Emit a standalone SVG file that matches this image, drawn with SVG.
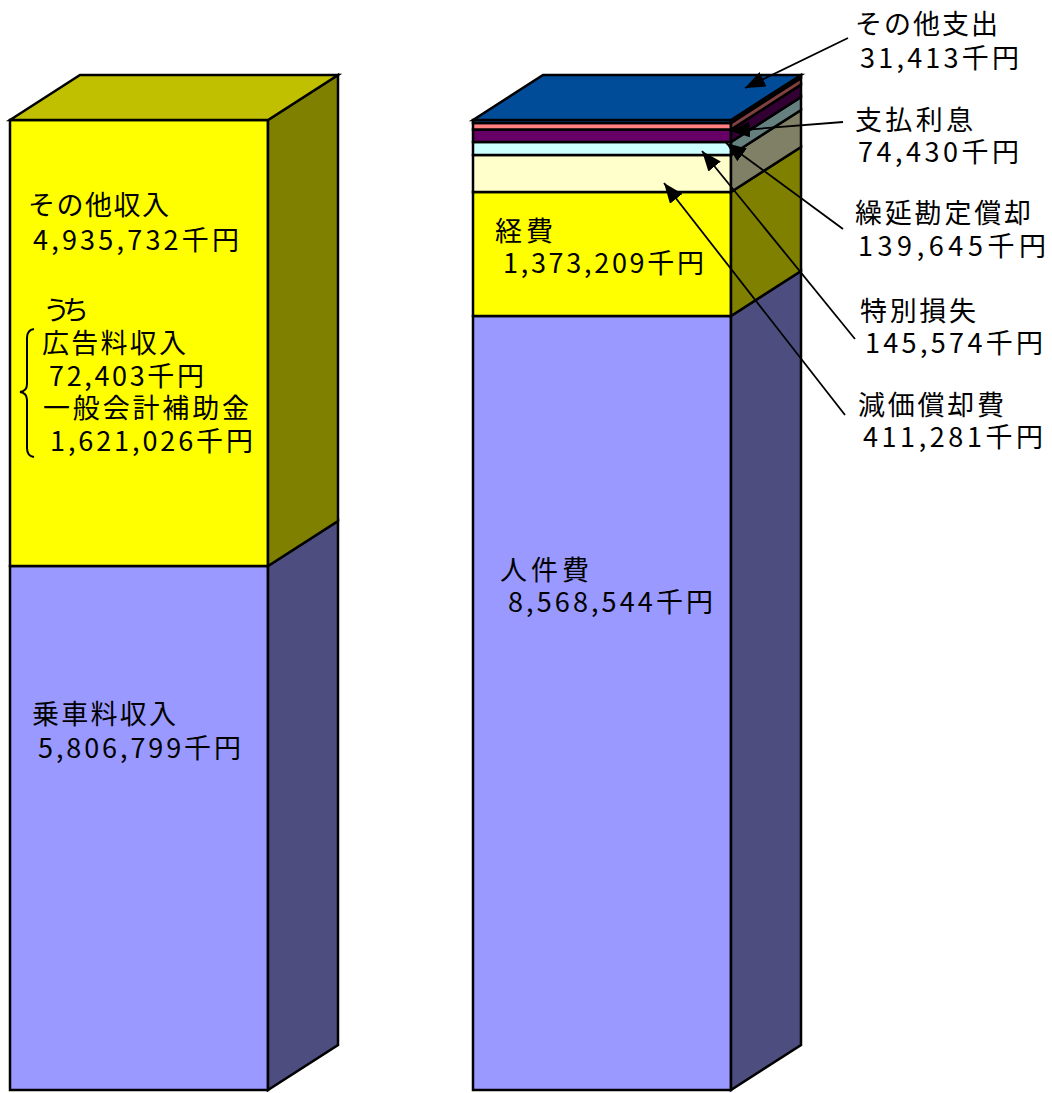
<svg xmlns="http://www.w3.org/2000/svg" width="1052" height="1093" viewBox="0 0 1052 1093">
<style>
  .face { stroke: #000; stroke-width: 2.5; stroke-linejoin: miter; }
  .lbl { font-family: "Noto Sans CJK JP", "Noto Sans", sans-serif; font-size: 27px; fill: #000; }
  .lead { stroke: #000; stroke-width: 1.8; fill: none; }
  .brace { stroke: #000; stroke-width: 2; fill: none; }
</style>
<defs>
  <marker id="arr" markerUnits="userSpaceOnUse" viewBox="0 -8 20 16" refX="20" refY="0" markerWidth="20" markerHeight="16" orient="auto">
    <path d="M0,-8 L20,0 L0,8 z" fill="#000"/>
  </marker>
</defs>
<rect width="1052" height="1093" fill="#fff"/>

<!-- Left bar: revenue -->
<g id="rev-fare">
  <polygon class="face" points="10,566 268,566 268,1090 10,1090" fill="#9999FF"/>
  <polygon class="face" points="268,566 338,521 338,1045 268,1090" fill="#4D4D80"/>
  <text class="lbl" x="32" y="724" textLength="144" lengthAdjust="spacing">乗車料収入</text>
  <text class="lbl" x="38" y="758" textLength="203" lengthAdjust="spacing">5,806,799千円</text>
</g>
<g id="rev-other">
  <polygon class="face" points="10,120 268,120 268,566 10,566" fill="#FFFF00"/>
  <polygon class="face" points="268,120 338,75 338,521 268,566" fill="#808000"/>
  <polygon class="face" points="10,120 80,75 338,75 268,120" fill="#C0C000"/>
  <text class="lbl" x="28" y="215" textLength="141" lengthAdjust="spacing">その他収入</text>
  <text class="lbl" x="33" y="250" textLength="206" lengthAdjust="spacing">4,935,732千円</text>
  <text class="lbl" x="43" y="320" textLength="46" lengthAdjust="spacing">うち</text>
  <path class="brace" d="M34,329 Q27,330 27,338 L27,384 Q27,391 20,392 Q27,393 27,400 L27,448 Q27,456 34,457"/>
  <text class="lbl" x="42" y="353" textLength="144" lengthAdjust="spacing">広告料収入</text>
  <text class="lbl" x="49" y="386" textLength="155" lengthAdjust="spacing">72,403千円</text>
  <text class="lbl" x="43" y="418" textLength="206" lengthAdjust="spacing">一般会計補助金</text>
  <text class="lbl" x="50" y="451" textLength="203" lengthAdjust="spacing">1,621,026千円</text>
</g>

<!-- Right bar: expenses -->
<g id="exp-personnel">
  <polygon class="face" points="473,316 731,316 731,1090 473,1090" fill="#9999FF"/>
  <polygon class="face" points="731,316 801,271 801,1045 731,1090" fill="#4D4D80"/>
  <text class="lbl" x="500" y="580" textLength="89" lengthAdjust="spacing">人件費</text>
  <text class="lbl" x="508" y="612" textLength="205" lengthAdjust="spacing">8,568,544千円</text>
</g>
<g id="exp-general">
  <polygon class="face" points="473,192 731,192 731,316 473,316" fill="#FFFF00"/>
  <polygon class="face" points="731,192 801,147 801,271 731,316" fill="#808000"/>
  <text class="lbl" x="495" y="241" textLength="58" lengthAdjust="spacing">経費</text>
  <text class="lbl" x="503" y="273" textLength="201" lengthAdjust="spacing">1,373,209千円</text>
</g>
<g id="exp-depreciation">
  <polygon class="face" points="473,155 731,155 731,192 473,192" fill="#FFFFCC"/>
  <polygon class="face" points="731,155 801,110 801,147 731,192" fill="#808066"/>
</g>
<g id="exp-special-loss">
  <polygon class="face" points="473,142 731,142 731,155 473,155" fill="#CCFFFF"/>
  <polygon class="face" points="731,142 801,97 801,110 731,155" fill="#668080"/>
</g>
<g id="exp-deferred">
  <polygon class="face" points="473,129.6 731,129.6 731,142 473,142" fill="#660066"/>
  <polygon class="face" points="731,129.6 801,84.6 801,97 731,142" fill="#330033"/>
</g>
<g id="exp-interest">
  <polygon class="face" points="473,123 731,123 731,129.6 473,129.6" fill="#FF8080"/>
  <polygon class="face" points="731,123 801,78 801,84.6 731,129.6" fill="#804040"/>
</g>
<g id="exp-other">
  <polygon class="face" points="473,120 731,120 731,123 473,123" fill="#0066CC"/>
  <polygon class="face" points="731,120 801,75 801,78 731,123" fill="#003366"/>
  <polygon class="face" points="473,120 543,75 801,75 731,120" fill="#004C99"/>
</g>

<!-- Callout labels -->
<g id="lbl-other-exp">
  <text class="lbl" x="855" y="34" textLength="143" lengthAdjust="spacing">その他支出</text>
  <text class="lbl" x="860" y="68" textLength="159" lengthAdjust="spacing">31,413千円</text>
</g>
<g id="lbl-interest">
  <text class="lbl" x="855" y="130" textLength="118" lengthAdjust="spacing">支払利息</text>
  <text class="lbl" x="858" y="162" textLength="161" lengthAdjust="spacing">74,430千円</text>
</g>
<g id="lbl-deferred">
  <text class="lbl" x="855" y="223" textLength="176" lengthAdjust="spacing">繰延勘定償却</text>
  <text class="lbl" x="858" y="256" textLength="188" lengthAdjust="spacing">139,645千円</text>
</g>
<g id="lbl-special-loss">
  <text class="lbl" x="860" y="321" textLength="116" lengthAdjust="spacing">特別損失</text>
  <text class="lbl" x="865" y="353" textLength="178" lengthAdjust="spacing">145,574千円</text>
</g>
<g id="lbl-depreciation">
  <text class="lbl" x="858" y="415" textLength="146" lengthAdjust="spacing">減価償却費</text>
  <text class="lbl" x="863" y="447" textLength="180" lengthAdjust="spacing">411,281千円</text>
</g>

<!-- Connectors -->
<g id="connectors">
  <line class="lead" x1="848" y1="38" x2="745" y2="88" marker-end="url(#arr)"/>
  <line class="lead" x1="843" y1="122" x2="730" y2="131" marker-end="url(#arr)"/>
  <line class="lead" x1="843" y1="229" x2="726" y2="143" marker-end="url(#arr)"/>
  <line class="lead" x1="855" y1="339" x2="702" y2="151" marker-end="url(#arr)"/>
  <line class="lead" x1="845" y1="415" x2="664" y2="183" marker-end="url(#arr)"/>
</g>
</svg>
